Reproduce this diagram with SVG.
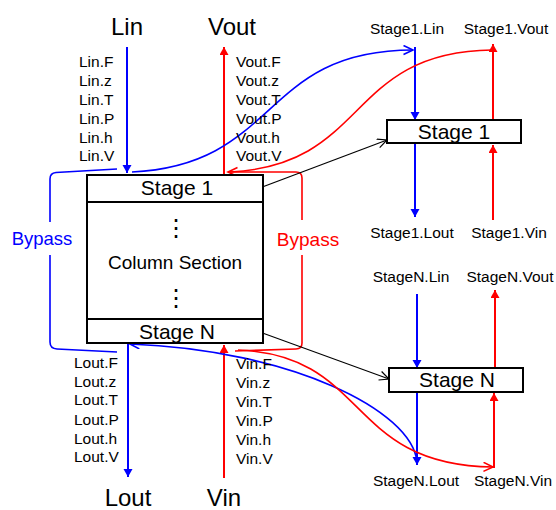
<svg xmlns="http://www.w3.org/2000/svg" width="556" height="510" viewBox="0 0 556 510">
<style>
text{font-family:"Liberation Sans",Arial,Helvetica,sans-serif;fill:#000}
.big{font-size:24px;text-anchor:middle}
.stg{font-size:21px;text-anchor:middle}
.sm{font-size:15.5px}
.smc{font-size:15.5px;text-anchor:middle}
.box{fill:#fff;stroke:#000;stroke-width:2}
.bl{stroke:#0000ff;stroke-width:2;fill:none}
.rd{stroke:#ff0000;stroke-width:2;fill:none}
.blc{stroke:#0000ff;stroke-width:1.6;fill:none}
.rdc{stroke:#ff0000;stroke-width:1.6;fill:none}
.bk{stroke:#000;stroke-width:1.2;fill:none}
</style>
<defs>
<marker id="ab" markerUnits="userSpaceOnUse" markerWidth="10" markerHeight="10" refX="8" refY="4.5" orient="auto"><path d="M0,0 L8,4.5 L0,9 z" fill="#0000ff"/></marker>
<marker id="ar" markerUnits="userSpaceOnUse" markerWidth="10" markerHeight="10" refX="8" refY="4.5" orient="auto"><path d="M0,0 L8,4.5 L0,9 z" fill="#ff0000"/></marker>
<marker id="cb" markerUnits="userSpaceOnUse" markerWidth="14" markerHeight="12" refX="10" refY="5" orient="auto"><path d="M0.5,0.5 L10,5 L0.5,9.5" fill="none" stroke="#0000ff" stroke-width="1.6"/></marker>
<marker id="cr" markerUnits="userSpaceOnUse" markerWidth="14" markerHeight="12" refX="10" refY="5" orient="auto"><path d="M0.5,0.5 L10,5 L0.5,9.5" fill="none" stroke="#ff0000" stroke-width="1.6"/></marker>
<marker id="ck" markerUnits="userSpaceOnUse" markerWidth="14" markerHeight="12" refX="10" refY="5" orient="auto"><path d="M0.5,0.5 L10,5 L0.5,9.5" fill="none" stroke="#000" stroke-width="1.2"/></marker>
</defs>

<g id="connectors">
<path class="bl" d="M127,47 L127,173" marker-end="url(#ab)"/>
<path class="rd" d="M224,175 L224,47" marker-end="url(#ar)"/>
<path class="bl" d="M128,343 L128,477" marker-end="url(#ab)"/>
<path class="rd" d="M224,478 L224,345" marker-end="url(#ar)"/>
<path class="bl" d="M415,47 L415,120" marker-end="url(#ab)"/>
<path class="bl" d="M415,143 L415,217" marker-end="url(#ab)"/>
<path class="rd" d="M493,120 L493,44" marker-end="url(#ar)"/>
<path class="rd" d="M493,220 L493,145" marker-end="url(#ar)"/>
<path class="bl" d="M417,294 L417,368" marker-end="url(#ab)"/>
<path class="bl" d="M417,392 L417,465" marker-end="url(#ab)"/>
<path class="rd" d="M495,368 L495,290" marker-end="url(#ar)"/>
<path class="rd" d="M494,468 L494,393" marker-end="url(#ar)"/>
<path class="blc" d="M117,169 L56,172.5 Q50,173 50,179 L50,222"/>
<path class="blc" d="M50,255 L50,342 Q50,348.5 57,349 L117,352"/>
<path class="blc" d="M132,172 C280,165 260,50 413,50" marker-end="url(#cb)"/>
<path class="blc" d="M417,462 C412,410 290,350 130,344" marker-end="url(#cb)"/>
<path class="rdc" d="M302,220 L302,178 Q302,172 296,172 L228,172" marker-end="url(#cr)"/>
<path class="rdc" d="M302,255 L302,343 Q302,349 296,349 L235,351"/>
<path class="rdc" d="M492,50 C345,52 370,165 230,172"/>
<path class="rdc" d="M238,350 C370,355 345,465 493,467" marker-end="url(#cr)"/>
<path class="bk" d="M257,189 L387,140" marker-end="url(#ck)"/>
<path class="bk" d="M257,331 L389,379" marker-end="url(#ck)"/>
</g>

<g id="column">
<rect class="box" x="87" y="175" width="176" height="168"/>
<line x1="87" y1="202" x2="263" y2="202" stroke="#000" stroke-width="2"/>
<line x1="87" y1="319" x2="263" y2="319" stroke="#000" stroke-width="2"/>
<text class="stg" x="177" y="195">Stage 1</text>
<text x="176" y="236" style="font-family:'DejaVu Sans',sans-serif;font-size:24px;text-anchor:middle">⋮</text>
<text x="175" y="269" style="font-size:19px;text-anchor:middle">Column Section</text>
<text x="176" y="306" style="font-family:'DejaVu Sans',sans-serif;font-size:24px;text-anchor:middle">⋮</text>
<text class="stg" x="177" y="339">Stage N</text>
</g>

<g id="stage1">
<rect class="box" x="387" y="120" width="134" height="23"/>
<text class="stg" x="454" y="139">Stage 1</text>
</g>

<g id="stageN">
<rect class="box" x="389" y="368" width="134" height="24"/>
<text class="stg" x="457" y="387">Stage N</text>
</g>

<g id="labels">
<text class="big" x="127" y="35">Lin</text>
<text class="big" x="232" y="35">Vout</text>
<text class="big" x="128" y="506">Lout</text>
<text class="big" x="224" y="506">Vin</text>
<text class="sm" x="79" y="67">Lin.F</text>
<text class="sm" x="79" y="86">Lin.z</text>
<text class="sm" x="79" y="104.5">Lin.T</text>
<text class="sm" x="79" y="123.5">Lin.P</text>
<text class="sm" x="79" y="142.5">Lin.h</text>
<text class="sm" x="79" y="161">Lin.V</text>
<text class="sm" x="236" y="67">Vout.F</text>
<text class="sm" x="236" y="86">Vout.z</text>
<text class="sm" x="236" y="104.5">Vout.T</text>
<text class="sm" x="236" y="123.5">Vout.P</text>
<text class="sm" x="236" y="142.5">Vout.h</text>
<text class="sm" x="236" y="161">Vout.V</text>
<text class="sm" x="74" y="367.5">Lout.F</text>
<text class="sm" x="74" y="386.5">Lout.z</text>
<text class="sm" x="74" y="405">Lout.T</text>
<text class="sm" x="74" y="424.5">Lout.P</text>
<text class="sm" x="74" y="443.5">Lout.h</text>
<text class="sm" x="74" y="462">Lout.V</text>
<text class="sm" x="236" y="369">Vin.F</text>
<text class="sm" x="236" y="388">Vin.z</text>
<text class="sm" x="236" y="407">Vin.T</text>
<text class="sm" x="236" y="426">Vin.P</text>
<text class="sm" x="236" y="445">Vin.h</text>
<text class="sm" x="236" y="464">Vin.V</text>
<text class="smc" x="407" y="34">Stage1.Lin</text>
<text class="smc" x="506" y="34">Stage1.Vout</text>
<text class="smc" x="412" y="238">Stage1.Lout</text>
<text class="smc" x="509" y="238">Stage1.Vin</text>
<text class="smc" x="411" y="282">StageN.Lin</text>
<text class="smc" x="510" y="282">StageN.Vout</text>
<text class="smc" x="416" y="486">StageN.Lout</text>
<text class="smc" x="513" y="486">StageN.Vin</text>
<text x="42" y="245" style="font-size:18.5px;text-anchor:middle;fill:#0000ff">Bypass</text>
<text x="308" y="246" style="font-size:19px;text-anchor:middle;fill:#ff0000">Bypass</text>
</g>
</svg>
